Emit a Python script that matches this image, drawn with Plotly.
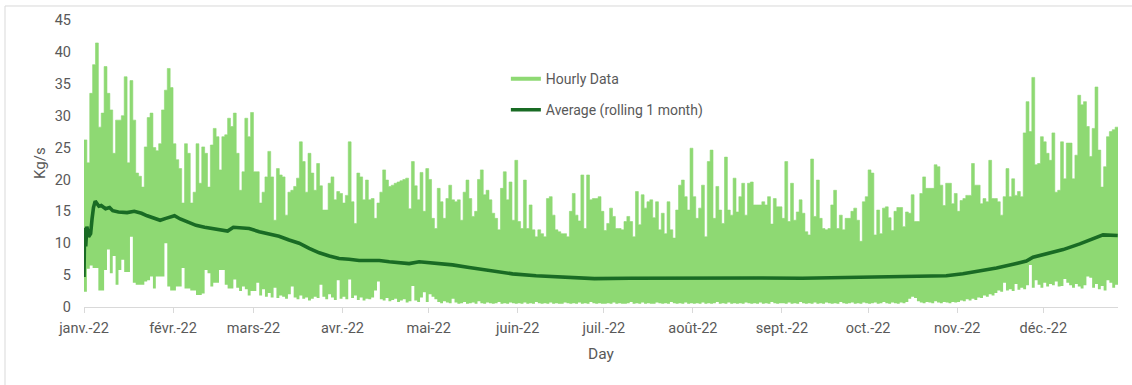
import numpy as np
import pandas as pd
import plotly.graph_objects as go

LIGHT = "#8ED973"
DARK = "#196B24"
TEXT = "#595959"
AXIS = "#D9D9D9"
FONT = "Roboto"

start = pd.Timestamp("2022-01-01")

# Daily peak of the hourly flow (kg/s), one value per day
high_jan = [26.2, 22.6, 33.5, 38.0, 41.4, 28.2, 30.4, 37.7, 33.5, 30.9, 24.1, 29.3, 29.3, 30.0, 36.1, 22.6,
            35.5, 29.3, 21.0, 20.5, 18.8, 25.1, 29.7, 30.4, 25.0, 24.5, 25.6, 30.9, 34.0, 37.4, 34.4]
high_feb = [25.6, 23.1, 21.7, 16.3, 25.6, 24.1, 16.3, 18.0, 25.6, 19.4, 25.1, 24.1, 18.8, 25.4, 28.0, 26.7,
            21.5, 26.7, 27.0, 29.6, 28.3, 30.4, 24.1, 18.3, 21.2, 29.6, 26.7, 30.5]
high_mar = [21.2, 21.2, 16.3, 18.0, 20.4, 24.4, 20.4, 13.6, 21.7, 20.7, 20.4, 14.4, 18.0, 18.3, 18.9, 20.2,
            25.9, 22.8, 18.0, 24.1, 21.0, 18.3, 22.5, 19.0, 15.2, 15.2, 19.4, 20.4, 16.8, 18.1, 17.8]
high_apr = [16.3, 17.5, 25.9, 16.5, 13.1, 21.0, 20.4, 16.8, 19.9, 16.8, 17.0, 13.9, 16.3, 18.0, 21.5, 19.9,
            18.9, 19.1, 19.4, 19.6, 19.8, 20.0, 20.2, 15.4, 22.8, 19.0, 16.8, 21.1, 15.0, 21.7]
high_may = [20.0, 13.9, 12.3, 18.6, 16.5, 13.9, 17.0, 19.1, 16.8, 16.5, 16.8, 13.6, 18.0, 19.9, 17.0, 14.2,
            15.0, 20.0, 21.5, 17.6, 18.3, 16.8, 14.7, 13.9, 12.1, 18.6, 21.2, 16.8, 19.6, 13.6, 23.0]
high_jun = [13.4, 12.3, 19.9, 12.3, 16.0, 12.1, 11.0, 12.1, 11.5, 11.0, 17.0, 17.3, 14.4, 12.1, 11.8, 11.5,
            11.5, 11.0, 15.0, 17.8, 14.4, 13.5, 20.7, 12.3, 20.7, 16.8, 17.0, 17.0, 17.3, 15.0]
high_jul = [12.0, 13.1, 15.5, 14.2, 12.3, 12.3, 12.1, 13.4, 14.2, 13.4, 11.0, 18.1, 12.9, 17.6, 15.5, 16.5,
            16.8, 14.0, 16.5, 12.1, 14.7, 11.5, 16.5, 12.1, 10.8, 15.2, 19.1, 19.9, 17.3, 15.2, 24.9]
high_aug = [17.3, 13.9, 15.5, 19.1, 11.0, 22.8, 24.6, 13.9, 18.9, 15.2, 13.1, 23.5, 15.2, 14.4, 20.2, 14.9,
            17.3, 19.4, 14.4, 19.4, 19.6, 16.0, 16.0, 16.0, 16.5, 16.0, 17.3, 13.0, 17.0, 15.7, 15.7]
high_sep = [13.9, 22.8, 13.4, 19.4, 13.6, 14.9, 16.8, 14.7, 11.8, 11.3, 23.2, 14.2, 19.9, 13.9, 12.3, 12.1,
            12.3, 16.0, 18.3, 12.3, 14.4, 12.1, 13.9, 13.9, 15.0, 15.5, 13.6, 10.3, 16.5, 17.3]
high_oct = [21.5, 21.0, 11.3, 15.2, 11.5, 15.5, 15.7, 14.0, 12.0, 15.0, 15.6, 15.6, 12.6, 14.9, 14.7, 17.6,
            13.4, 13.4, 17.8, 20.4, 18.6, 18.6, 18.6, 22.3, 22.0, 19.1, 15.9, 19.4, 19.4, 16.2, 17.8]
high_nov = [15.0, 16.7, 17.0, 17.5, 17.5, 22.5, 19.1, 19.1, 16.2, 17.0, 16.5, 23.0, 17.0, 17.0, 16.5, 14.4,
            17.3, 21.7, 17.3, 20.1, 17.5, 18.1, 17.3, 27.3, 32.2, 27.5, 36.0, 22.3, 22.5, 26.7]
high_dec = [25.9, 24.1, 23.0, 27.3, 18.0, 18.3, 25.9, 20.1, 25.7, 25.7, 20.1, 23.8, 33.2, 31.7, 32.2, 28.3,
            23.6, 28.0, 34.5, 24.6, 18.8, 22.0, 26.7, 27.5, 27.8, 28.2]

# Daily trough of the hourly flow (kg/s)
low_jan = [2.4, 6.0, 6.5, 6.1, 6.1, 2.6, 2.6, 5.8, 9.0, 5.3, 8.0, 3.5, 5.8, 7.4, 5.5, 5.5, 11.0, 3.8, 3.5,
           3.5, 3.5, 4.0, 4.2, 4.8, 2.9, 4.8, 4.8, 4.8, 10.0, 3.2, 2.6]
low_feb = [2.6, 3.2, 3.2, 6.1, 2.9, 2.9, 2.6, 2.6, 1.9, 1.9, 2.1, 5.8, 5.3, 3.2, 3.8, 3.8, 5.8, 5.8, 3.5,
           2.9, 2.9, 4.3, 3.0, 2.5, 3.2, 2.8, 1.8, 2.5]
low_mar = [2.5, 3.8, 1.8, 2.8, 1.6, 2.2, 1.5, 3.0, 1.4, 1.8, 1.6, 1.3, 2.0, 3.2, 1.5, 1.2, 1.8, 1.3, 1.5,
           1.0, 1.3, 1.6, 1.4, 3.5, 1.6, 1.2, 2.0, 1.5, 1.1, 4.2, 1.3]
low_apr = [1.6, 1.2, 4.3, 1.4, 1.8, 1.1, 1.5, 1.0, 1.3, 1.2, 1.5, 2.6, 4.0, 1.2, 1.0, 1.4, 0.9, 1.1, 1.3,
           0.8, 1.0, 1.2, 0.7, 0.9, 3.3, 1.0, 0.8, 1.5, 2.3, 0.8]
low_may = [2.0, 1.6, 1.2, 0.8, 0.6, 0.9, 0.7, 0.6, 1.3, 0.7, 0.5, 0.6, 0.8, 0.5, 0.6, 0.7, 0.5, 0.9, 0.6,
           0.5, 0.7, 0.6, 0.5, 0.6, 0.8, 0.5, 0.6, 0.5, 0.7, 0.6, 0.5]
low_jun = [0.6, 0.5, 0.7, 0.5, 0.6, 0.5, 0.8, 0.6, 0.5, 0.6, 0.5, 0.7, 0.5, 0.6, 0.5, 0.5, 0.7, 0.6, 0.5,
           0.6, 0.5, 0.7, 0.5, 0.6, 0.5, 0.8, 0.6, 0.5, 0.6, 0.5]
low_jul = [0.5, 0.6, 0.5, 0.7, 0.5, 0.6, 0.5, 0.5, 0.6, 0.8, 0.5, 0.6, 0.5, 0.7, 0.5, 0.6, 0.5, 0.5, 0.7,
           0.6, 0.5, 0.6, 0.5, 0.8, 0.6, 0.5, 0.6, 0.5, 0.7, 0.5, 0.6]
low_aug = [0.5, 0.6, 0.5, 0.7, 0.5, 0.6, 0.5, 0.6, 0.8, 0.5, 0.6, 0.5, 0.7, 0.5, 0.6, 0.5, 0.6, 0.5, 0.7,
           0.6, 0.5, 0.6, 0.5, 0.7, 0.5, 0.6, 0.5, 0.8, 0.6, 0.5, 0.6]
low_sep = [0.6, 0.5, 0.7, 0.5, 0.6, 0.5, 0.8, 0.6, 0.5, 0.6, 0.5, 0.7, 0.5, 0.6, 0.5, 0.7, 0.6, 0.5, 0.6,
           0.5, 0.8, 0.6, 0.5, 0.6, 0.7, 0.5, 0.6, 0.5, 0.7, 0.6]
low_oct = [0.5, 0.6, 0.7, 0.5, 0.6, 0.8, 0.6, 0.5, 0.7, 0.6, 0.5, 0.7, 0.6, 0.8, 1.3, 1.6, 1.4, 0.9, 0.7,
           0.6, 0.8, 0.7, 0.6, 0.9, 0.7, 0.6, 0.8, 0.7, 0.6, 0.8, 0.7]
low_nov = [0.8, 1.0, 0.9, 1.2, 1.0, 1.3, 1.1, 1.5, 1.4, 1.8, 1.6, 2.0, 1.8, 2.2, 2.6, 2.4, 3.8, 2.6, 2.8,
           2.5, 3.6, 2.7, 3.0, 2.8, 3.4, 6.6, 3.0, 4.2, 3.5, 3.0]
low_dec = [3.8, 3.2, 3.6, 3.4, 4.0, 3.2, 3.3, 4.4, 3.8, 3.4, 3.0, 3.6, 3.2, 2.9, 3.4, 4.8, 4.6, 3.0, 3.6,
           2.8, 3.3, 2.6, 4.2, 3.8, 3.0, 3.5]

# Rolling one-month average: day offset from 1 Jan and value (kg/s)
avg_day = [0, 0.2, 0.6, 1.0, 1.6, 2.3, 2.8, 3.3, 3.9, 4.5,
           5.2, 6.0, 7.5, 8.9, 10, 12, 15, 17.5, 20, 22,
           25, 26.5, 28.5, 31.5, 33.5, 36, 39, 42, 45, 48,
           50, 52, 55, 57.5, 61, 64.5, 67.9, 71.4, 74.9, 78.4,
           81.9, 85.4, 88.8, 92.3, 95.8, 99.3, 102.8, 106.3, 109.8, 113.2,
           116.7, 122.5, 128.3, 134.1, 139.9, 145.8, 149.2, 157.4, 163.2, 169,
           177.7, 190, 205, 220, 235, 250, 269.4, 281, 294.4, 300.2,
           306, 311.8, 317.7, 323.5, 328.1, 330.4, 335.1, 340.9, 346.7, 352.5,
           354.8, 359.9]
avg_val = [4.7, 12.4, 9.5, 12.6, 11.0, 11.5, 13.8, 15.6, 16.6, 16.2,
           15.8, 15.9, 15.4, 15.6, 15.1, 14.9, 14.8, 15.0, 14.7, 14.3,
           13.9, 13.6, 13.9, 14.3, 13.8, 13.4, 12.8, 12.5, 12.3, 12.0,
           11.9, 12.5, 12.4, 12.3, 11.8, 11.4, 11.1, 10.5, 10.0, 9.2,
           8.5, 8.0, 7.6, 7.5, 7.3, 7.3, 7.3, 7.1, 7.0, 6.8,
           7.1, 6.85, 6.6, 6.2, 5.8, 5.5, 5.2, 4.9, 4.75, 4.6,
           4.45, 4.5, 4.55, 4.5, 4.55, 4.5, 4.6, 4.7, 4.75, 4.9,
           5.2, 5.6, 6.1, 6.7, 7.2, 7.8, 8.4, 9.0, 9.9, 10.9,
           11.3, 11.2]

month_ticks = ["2022-01-01", "2022-02-01", "2022-03-01", "2022-04-01", "2022-05-01", "2022-06-01",
               "2022-07-01", "2022-08-01", "2022-09-01", "2022-10-01", "2022-11-01", "2022-12-01"]
month_labels = ["janv.-22", "févr.-22", "mars-22", "avr.-22", "mai-22", "juin-22",
                "juil.-22", "août-22", "sept.-22", "oct.-22", "nov.-22", "déc.-22"]

daily_high = (high_jan + high_feb + high_mar + high_apr + high_may + high_jun
              + high_jul + high_aug + high_sep + high_oct + high_nov + high_dec)
daily_low = (low_jan + low_feb + low_mar + low_apr + low_may + low_jun
             + low_jul + low_aug + low_sep + low_oct + low_nov + low_dec)

n_days = len(daily_high)
edges = start + pd.to_timedelta(np.arange(n_days + 1), unit="D")
hi = daily_high + [daily_high[-1]]
lo = daily_low + [daily_low[-1]]
avg_x = start + pd.to_timedelta(avg_day, unit="D")

fig = go.Figure()

# hourly band: daily troughs and peaks, filled between
fig.add_trace(go.Scatter(x=edges, y=lo, mode="lines", line=dict(color=LIGHT, width=0, shape="hv"),
                         showlegend=False, hoverinfo="skip"))
fig.add_trace(go.Scatter(x=edges, y=hi, mode="lines", line=dict(color=LIGHT, width=0.6, shape="hv"),
                         fill="tonexty", fillcolor=LIGHT, showlegend=False, hoverinfo="skip"))

# legend entry for the hourly band
fig.add_trace(go.Scatter(x=[None], y=[None], mode="lines", line=dict(color=LIGHT, width=4),
                         name="Hourly Data", legend="legend"))

fig.add_trace(go.Scatter(x=avg_x, y=avg_val, mode="lines", line=dict(color=DARK, width=3.6),
                         name="Average (rolling 1 month)", legend="legend2"))

fig.update_layout(
    width=1132, height=385, autosize=False,
    margin=dict(l=84, r=14, t=20, b=78),
    paper_bgcolor="white", plot_bgcolor="white",
    font=dict(family=FONT, size=14, color=TEXT),
    legend=dict(x=0.408, y=0.794, xanchor="left", yanchor="middle", bgcolor="rgba(0,0,0,0)",
                font=dict(family=FONT, size=14, color=TEXT)),
    legend2=dict(x=0.408, y=0.686, xanchor="left", yanchor="middle", bgcolor="rgba(0,0,0,0)",
                 font=dict(family=FONT, size=14, color=TEXT)),
    xaxis=dict(type="date", range=[edges[0], edges[-1]], tickvals=month_ticks, ticktext=month_labels,
               ticks="outside", ticklen=5, tickcolor=AXIS, showline=True, linecolor=AXIS, linewidth=1,
               showgrid=False, zeroline=False, tickfont=dict(family=FONT, size=14.5, color=TEXT),
               ticklabelstandoff=3),
    yaxis=dict(range=[0, 45], dtick=5, showgrid=False, zeroline=False, showline=False, ticks="",
               tickfont=dict(family=FONT, size=14.5, color=TEXT), ticklabelstandoff=12),
    annotations=[
        dict(text="Kg/s", xref="paper", yref="paper", x=-0.0426, y=0.502, xanchor="center",
             yanchor="middle", showarrow=False, textangle=-90,
             font=dict(family=FONT, size=15, color=TEXT)),
        dict(text="Day", xref="paper", yref="paper", x=0.5, y=-0.164, xanchor="center",
             yanchor="middle", showarrow=False, font=dict(family=FONT, size=15.5, color=TEXT)),
    ],
    shapes=[
        dict(type="rect", xref="paper", yref="paper", x0=-0.0764, x1=1.03, y0=-0.31, y1=1.0488,
             line=dict(color=AXIS, width=1), fillcolor="rgba(0,0,0,0)", layer="below"),
    ],
)

fig.write_html("out.html")
